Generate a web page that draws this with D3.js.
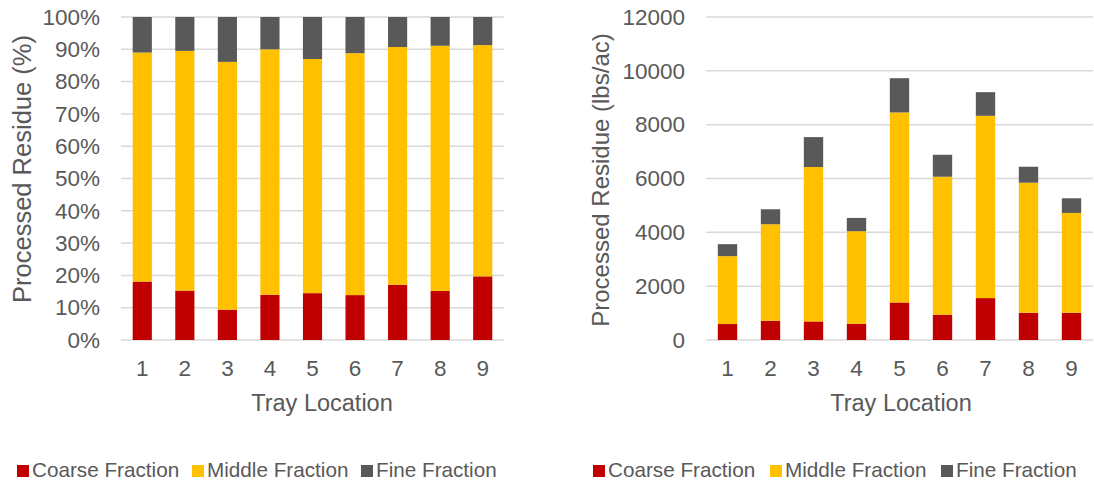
<!DOCTYPE html>
<html>
<head>
<meta charset="utf-8">
<script src="https://cdn.jsdelivr.net/npm/d3@7"></script>
<style>
  html, body { margin: 0; padding: 0; background: #fff; }
  svg { display: block; font-family: "Liberation Sans", Arial, sans-serif; }
  .tick text { fill: #595959; }
</style>
</head>
<body>
<div id="chart"></div>
<script>
// Tray residue fractions — two stacked bar charts side by side.

var trays = ['1', '2', '3', '4', '5', '6', '7', '8', '9'];
var seriesNames = ['Coarse Fraction', 'Middle Fraction', 'Fine Fraction'];
var seriesColors = ['#C00000', '#FFC000', '#595959'];

// left chart: share of processed residue (%)
var pctCoarse = [18.1, 15.3, 9.4, 14.0, 14.5, 13.9, 17.1, 15.2, 19.7];
var pctMiddle = [70.9, 74.2, 76.7, 76.0, 72.5, 74.9, 73.6, 75.9, 71.6];
var pctFine   = [11.0, 10.5, 13.9, 10.0, 13.0, 11.2, 9.3, 8.9, 8.7];
var pctTicks  = [0, 10, 20, 30, 40, 50, 60, 70, 80, 90, 100];

// right chart: processed residue (lbs/ac)
var lbsCoarse = [593, 716, 690, 604, 1394, 938, 1557, 1012, 1012];
var lbsMiddle = [2522, 3585, 5736, 3437, 7060, 5128, 6771, 4832, 3708];
var lbsFine   = [445, 556, 1112, 494, 1272, 816, 879, 593, 545];
var lbsTicks  = [0, 2000, 4000, 6000, 8000, 10000, 12000];

var W = 1094, H = 482;
var TEXT = '#595959', GRID = '#d9d9d9';

var svg = d3.select('#chart').append('svg')
  .attr('width', W)
  .attr('height', H);

function rows(c, m, f) {
  return trays.map(function (t, i) {
    return { tray: t, coarse: c[i], middle: m[i], fine: f[i] };
  });
}

function drawChart(opt) {
  var g = svg.append('g');

  var x = d3.scaleBand()
    .domain(trays)
    .range([opt.left, opt.right])
    .paddingInner(0.55)
    .paddingOuter(0.275);

  var y = d3.scaleLinear()
    .domain([0, opt.max])
    .range([opt.bottom, opt.top]);

  // gridlines
  g.append('g')
    .selectAll('line')
    .data(opt.ticks)
    .join('line')
    .attr('x1', opt.left)
    .attr('x2', opt.right)
    .attr('y1', function (d) { return y(d); })
    .attr('y2', function (d) { return y(d); })
    .attr('stroke', GRID)
    .attr('stroke-width', 1.5);

  // y axis labels
  var yAxis = d3.axisLeft(y)
    .tickValues(opt.ticks)
    .tickSize(0)
    .tickPadding(0)
    .tickFormat(opt.fmt);
  g.append('g')
    .attr('transform', 'translate(' + opt.yLabelX + ',0)')
    .call(yAxis)
    .call(function (s) { s.select('.domain').remove(); })
    .selectAll('text')
    .attr('font-size', 22.5)
    .attr('fill', TEXT);

  // stacked bars
  var stack = d3.stack().keys(['coarse', 'middle', 'fine']);
  var layers = stack(opt.data);

  g.append('g')
    .selectAll('g')
    .data(layers)
    .join('g')
    .attr('fill', function (d, i) { return seriesColors[i]; })
    .selectAll('rect')
    .data(function (d) { return d; })
    .join('rect')
    .attr('x', function (d) { return x(d.data.tray); })
    .attr('width', x.bandwidth())
    .attr('y', function (d) { return y(d[1]); })
    .attr('height', function (d) { return y(d[0]) - y(d[1]); });

  // x axis labels
  var xAxis = d3.axisBottom(x).tickSize(0).tickPadding(0);
  g.append('g')
    .attr('transform', 'translate(0,' + (opt.bottom + 20) + ')')
    .call(xAxis)
    .call(function (s) { s.select('.domain').remove(); })
    .selectAll('text')
    .attr('font-size', 22.5)
    .attr('fill', TEXT);

  // axis titles
  g.append('text')
    .attr('x', opt.xTitleX)
    .attr('y', 411)
    .attr('text-anchor', 'middle')
    .attr('font-size', 23.5)
    .attr('fill', TEXT)
    .text('Tray Location');

  g.append('text')
    .attr('transform', 'translate(' + opt.yTitleX + ',' + opt.yTitleY + ') rotate(-90)')
    .attr('text-anchor', 'middle')
    .attr('font-size', opt.yTitleSize)
    .attr('fill', TEXT)
    .text(opt.yTitle);

  // legend
  var lg = g.append('g');
  var xs = opt.legendPos;
  seriesNames.forEach(function (name, i) {
    lg.append('rect')
      .attr('x', xs[i])
      .attr('y', 465)
      .attr('width', 12)
      .attr('height', 12)
      .attr('fill', seriesColors[i]);
    lg.append('text')
      .attr('x', xs[i] + 15)
      .attr('y', 477)
      .attr('font-size', 20.7)
      .attr('fill', TEXT)
      .text(name);
  });
}

drawChart({
  data: rows(pctCoarse, pctMiddle, pctFine),
  max: 100,
  ticks: pctTicks,
  fmt: function (d) { return d + '%'; },
  left: 121, right: 504, top: 17, bottom: 340,
  yLabelX: 100,
  xTitleX: 322,
  yTitleX: 31, yTitleY: 169, yTitleSize: 25.5,
  yTitle: 'Processed Residue (%)',
  legendPos: [17, 192, 361]
});

drawChart({
  data: rows(lbsCoarse, lbsMiddle, lbsFine),
  max: 12000,
  ticks: lbsTicks,
  fmt: function (d) { return String(d); },
  left: 706, right: 1093, top: 17, bottom: 340,
  yLabelX: 685,
  xTitleX: 901,
  yTitleX: 609, yTitleY: 180, yTitleSize: 24,
  yTitle: 'Processed Residue (lbs/ac)',
  legendPos: [593, 770, 941]
});
</script>
</body>
</html>
